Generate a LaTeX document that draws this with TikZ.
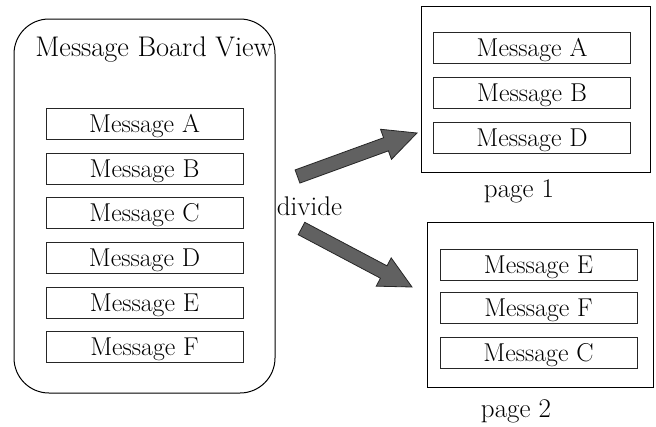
\documentclass[tikz,border=0pt]{standalone}
\usetikzlibrary{calc}
\newcommand\blockarrow[3]{%
  \coordinate (#1-base) at ($(#2)!#3!(#1)$);
  \filldraw[blockarr] ($(#1)!7pt!-90:(#2)$) -- ($(#1-base)!7pt!-90:(#2)$)
    -- ($(#1-base)!16pt!-90:(#2)$) -- (#2) -- ($(#1-base)!16pt!90:(#2)$)
    -- ($(#1-base)!7pt!90:(#2)$) -- ($(#1)!7pt!90:(#2)$) -- cycle;}
\begin{document}
\begin{tikzpicture}[x=1pt,y=-1pt,
  txt/.style={font=\rmfamily\fontsize{25.8}{30}\selectfont, inner sep=0pt},
  lab/.style={txt, anchor=base, font=\rmfamily\fontsize{27}{30}\selectfont},
  msg/.style={txt, draw=black!85, line width=1pt, minimum width=197pt, minimum height=31pt,
              text height=22pt, text depth=5pt},
  frame/.style={draw=black, line width=1pt, inner sep=0pt},
  blockarr/.style={fill=black!62, draw=black!85, line width=0.8pt, line join=miter}]
\useasboundingbox (0,0) rectangle (656,426);
% left view
\node[frame, rounded corners=35pt, minimum width=261pt, minimum height=374pt] (view) at (144.5,206) {};
\node[txt, anchor=base, font=\rmfamily\fontsize{28.4}{32}\selectfont] (title) at (154,56) {Message Board View};
\node[msg] (lA) at (144.5,123.5) {Message A};
\node[msg] (lB) at (144.5,168.5) {Message B};
\node[msg] (lC) at (144.5,213) {Message C};
\node[msg] (lD) at (144.5,257.5) {Message D};
\node[msg] (lE) at (144.5,302.5) {Message E};
\node[msg] (lF) at (144.5,347) {Message F};
% page 1
\node[frame, minimum width=229pt, minimum height=166pt] (p1) at (535.5,89) {};
\node[msg] (r1A) at (532,48) {Message A};
\node[msg] (r1B) at (532,92.5) {Message B};
\node[msg] (r1D) at (532,137.5) {Message D};
\node[lab] (p1lab) at (519,197) {page 1};
% page 2
\node[frame, minimum width=226pt, minimum height=165pt] (p2) at (540,304.5) {};
\node[msg] (r2E) at (538.5,264.5) {Message E};
\node[msg] (r2F) at (538.5,308) {Message F};
\node[msg] (r2C) at (538.5,353) {Message C};
\node[lab] (p2lab) at (516,417) {page 2};
% divide
\node[lab] (div) at (309.5,215) {divide};
\coordinate (t1) at (297.5,176.5);
\coordinate (h1) at (417,133);
\coordinate (t2) at (301.5,228.5);
\coordinate (h2) at (412,287);
\blockarrow{t1}{h1}{33pt}
\blockarrow{t2}{h2}{32pt}
\end{tikzpicture}
\end{document}
